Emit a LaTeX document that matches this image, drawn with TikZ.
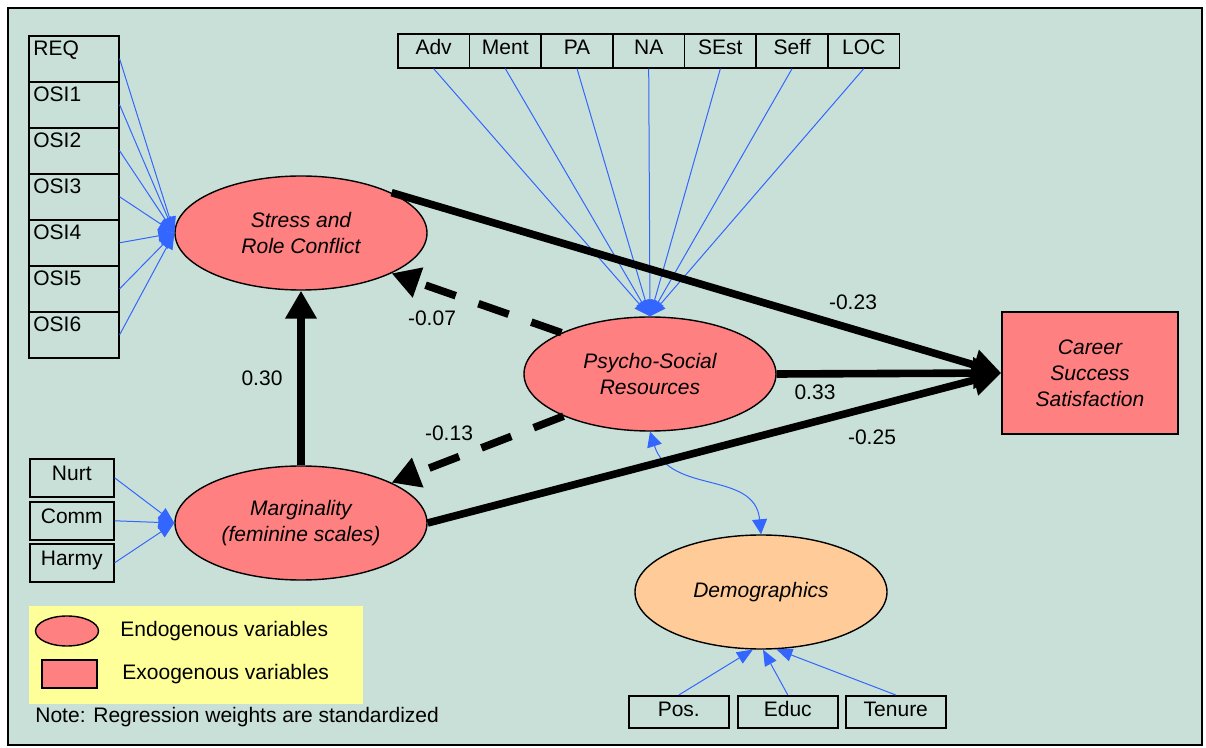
\documentclass[tikz,border=0pt]{standalone}
\usepackage{fontspec}
\setmainfont{Liberation Sans}
\usetikzlibrary{shapes.geometric, arrows.meta}

\definecolor{panelbg}{RGB}{201,224,216}
\definecolor{latentfill}{RGB}{255,128,128}
\definecolor{demofill}{RGB}{255,204,153}
\definecolor{legendfill}{RGB}{255,255,153}
\definecolor{loadblue}{RGB}{51,102,255}

\tikzset{
	latent/.style={ellipse, draw, line width=0.7pt, fill=latentfill, minimum width=126pt,
		minimum height=57pt, inner sep=0pt, align=center,
		font=\fontsize{10.5}{12.75}\selectfont\itshape},
	indbox/.style={rectangle, draw, line width=0.8pt, inner sep=0pt},
	loading/.style={loadblue, line width=0.5pt, -{Triangle[length=8pt, width=6.5pt]}},
	covary/.style={loadblue, line width=0.5pt,
		{Triangle[length=7.5pt, width=7.5pt]}-{Triangle[length=7.5pt, width=7.5pt]}},
	effect/.style={line width=3.8pt, -{Triangle[length=14pt, width=15pt]}},
	weak/.style={effect, dash pattern=on 16pt off 12pt},
	weight/.style={inner sep=0pt},
}

\begin{document}
\begin{tikzpicture}[x=0.5pt, y=-0.5pt, font=\fontsize{10.5}{12.5}\selectfont]
		\useasboundingbox (0, 0) rectangle (1206, 748);
		\draw[fill=panelbg, line width=0.8pt] (8, 8) rectangle (1202, 745);

		% latent variables
		\node[latent] (stress) at (301, 233) {Stress and\\Role Conflict};
		\node[latent] (psr) at (650, 374) {Psycho-Social\\Resources};
		\node[latent] (marg) at (301, 523) {Marginality\\(feminine scales)};
		\node[latent, fill=demofill] (demo) at (761, 592) {Demographics};
		\node[indbox, fill=latentfill, minimum width=88pt, minimum height=61pt,
			align=center, font=\fontsize{10.5}{13}\selectfont\itshape] (career) at (1090, 373) {Career\\Success\\Satisfaction};

		% indicators of stress
		\foreach \name [count=\i from 0] in {REQ, OSI1, OSI2, OSI3, OSI4, OSI5, OSI6} {
			\node[indbox, minimum width=45pt, minimum height=23pt, anchor=north west,
				label={[name=lt\i, anchor=north west, inner sep=2.5pt]north west:\name}] (l\i) at (28, {35+46*\i}) {};
			\draw[loading] (l\i.east) -- (stress.west);
		}

		% indicators of resources
		\foreach \name [count=\i from 0] in {Adv, Ment, PA, NA, SEst, Seff, LOC} {
			\node[indbox, minimum width=35.8pt, minimum height=17pt, text height=7.6pt, text depth=4pt,
				anchor=north west] (t\i) at ({397+71.7*\i}, 33) {\name};
			\draw[loading] (t\i.south) -- (psr.north);
		}

		% indicators of marginality
		\foreach \name/\y [count=\i from 0] in {Nurt/458, Comm/501, Harmy/543} {
			\node[indbox, minimum width=42pt, minimum height=19pt, text height=7.6pt, text depth=5pt,
				anchor=north west] (m\i) at (29, \y) {\name};
			\draw[loading] (m\i.east) -- (marg.west);
		}

		% indicators of demographics
		\foreach \name/\x/\a [count=\i from 0] in {Pos./628/262, Educ/737/272, Tenure/845/285} {
			\node[indbox, minimum width=50pt, minimum height=16pt, text height=7.6pt, text depth=3pt,
				anchor=north west] (d\i) at (\x, 695) {\name};
			\draw[loading] (d\i.north) -- (demo.\a);
		}
		\draw[covary] (psr.south) .. controls (670, 495) and (755, 470) .. (demo.north);

		% structural paths
		\draw[effect] (stress.24) -- (career.west);
		\draw[effect] (psr.east) -- (career.west);
		\draw[effect] (marg.east) -- (career.west);
		\draw[effect] (marg.north) -- (stress.south);
		\draw[weak] (psr.155) -- (stress.-24);
		\draw[weak] (psr.206) -- (marg.24);

		\node[weight] (w1) at (853, 302) {-0.23};
		\node[weight] (w2) at (815, 392) {0.33};
		\node[weight] (w3) at (872, 437) {-0.25};
		\node[weight] (w4) at (262, 378) {0.30};
		\node[weight] (w5) at (432, 318) {-0.07};
		\node[weight] (w6) at (449, 433) {-0.13};

		% legend
		\node[fill=legendfill, minimum width=167pt, minimum height=49pt, anchor=north west] (legend) at (29, 606) {};
		\node[latent, minimum width=31.5pt, minimum height=15pt] (legell) at (67, 631) {};
		\node[indbox, fill=latentfill, minimum width=27.5pt, minimum height=14pt] (legrect) at (69.5, 674) {};
		\node[weight, anchor=west] (legendo) at (120, 631) {Endogenous variables};
		\node[weight, anchor=west] (legexo) at (122, 674) {Exoogenous variables};
		\node[weight, anchor=west] (note) at (35, 717) {Note: Regression weights are standardized};
	\end{tikzpicture}
\end{document}
